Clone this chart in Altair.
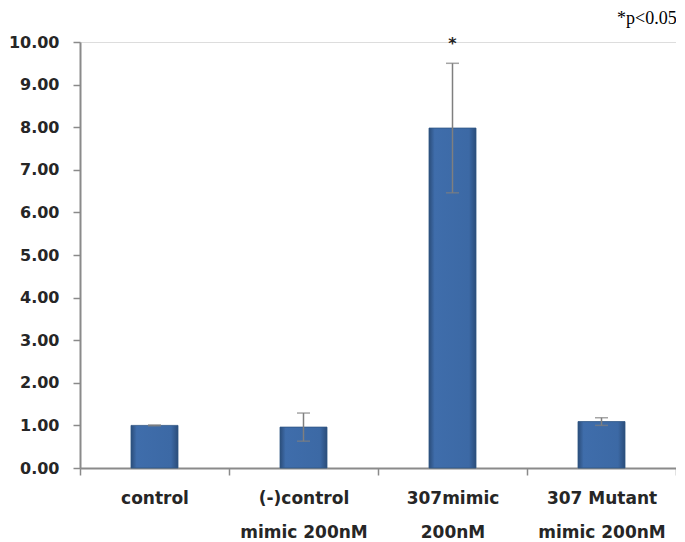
import altair as alt
import pandas as pd

categories = ["control", "(-)control|mimic 200nM", "307mimic|200nM", "307 Mutant|mimic 200nM"]
means = [1.00, 0.96, 7.98, 1.09]
errors = [0.01, 0.33, 1.52, 0.09]
stars = ["", "", "*", ""]
y_ticks = [0, 1, 2, 3, 4, 5, 6, 7, 8, 9, 10]

df = pd.DataFrame({
    "cat": categories,
    "mean": means,
    "err": errors,
    "star": stars,
})
df["lo"] = df["mean"] - df["err"]
df["hi"] = df["mean"] + df["err"]

AX = "#8a8a8a"
FONT = "DejaVu Sans"

x = alt.X(
    "cat:N",
    sort=categories,
    scale=alt.Scale(paddingInner=0, paddingOuter=0),
    axis=alt.Axis(
        title=None,
        labelAngle=0,
        labelExpr="split(datum.label, '|')",
        labelFont=FONT,
        labelFontSize=17,
        labelFontWeight="bold",
        labelColor="#262626",
        labelLineHeight=34,
        labelPadding=15,
        labelBaseline="top",
        tickBand="extent",
        tickSize=7,
        tickColor=AX,
        tickWidth=1.5,
        domainColor=AX,
        domainWidth=2,
        grid=False,
    ),
)

y_scale = alt.Scale(domain=[0, 10], nice=False)
y_axis = alt.Axis(
    title=None,
    values=y_ticks,
    format=".2f",
    labelFont=FONT,
    labelFontSize=16,
    labelFontWeight="bold",
    labelColor="#262626",
    labelPadding=14,
    tickSize=7,
    tickColor=AX,
    tickWidth=1.5,
    domainColor=AX,
    domainWidth=2,
    grid=False,
)

grad = alt.Gradient(
    gradient="linear",
    x1=0, x2=1, y1=0, y2=0,
    stops=[
        alt.GradientStop(color="#2b4d7a", offset=0),
        alt.GradientStop(color="#3f6dab", offset=0.12),
        alt.GradientStop(color="#3c69a5", offset=0.85),
        alt.GradientStop(color="#2b4d7a", offset=1),
    ],
)

base = alt.Chart(df)

bars = base.mark_bar(size=47, color=grad, stroke="#2f5584", strokeWidth=0.8).encode(
    x=x,
    y=alt.Y("mean:Q", scale=y_scale, axis=y_axis),
)

rule = base.mark_rule(color="#7f7f7f", strokeWidth=1.5).encode(
    x=alt.X("cat:N", sort=categories),
    y="lo:Q",
    y2="hi:Q",
)

cap_lo = base.mark_tick(color="#7f7f7f", size=13, thickness=1.5, orient="horizontal").encode(
    x=alt.X("cat:N", sort=categories),
    y="lo:Q",
)
cap_hi = base.mark_tick(color="#7f7f7f", size=13, thickness=1.5, orient="horizontal").encode(
    x=alt.X("cat:N", sort=categories),
    y="hi:Q",
)

star = base.mark_text(dy=-19, fontSize=16, fontWeight="bold", color="#1f1f1f", font=FONT).encode(
    x=alt.X("cat:N", sort=categories),
    y="hi:Q",
    text="star:N",
)

chart = (
    alt.layer(bars, rule, cap_lo, cap_hi, star)
    .properties(
        width=596,
        height=426,
        autosize=alt.AutoSizeParams(type="none"),
        padding={"left": 72, "top": 34, "right": 0, "bottom": 74},
        title=alt.TitleParams(
            text="*p<0.05",
            anchor="end",
            font="Liberation Serif",
            fontSize=18,
            fontWeight="normal",
            color="#000000",
            offset=6,
        ),
    )
    .configure_view(strokeOpacity=0, strokeWidth=0)
    .configure(background="white")
)

chart.save("out.html", embed_options={"renderer": "svg", "actions": False})
